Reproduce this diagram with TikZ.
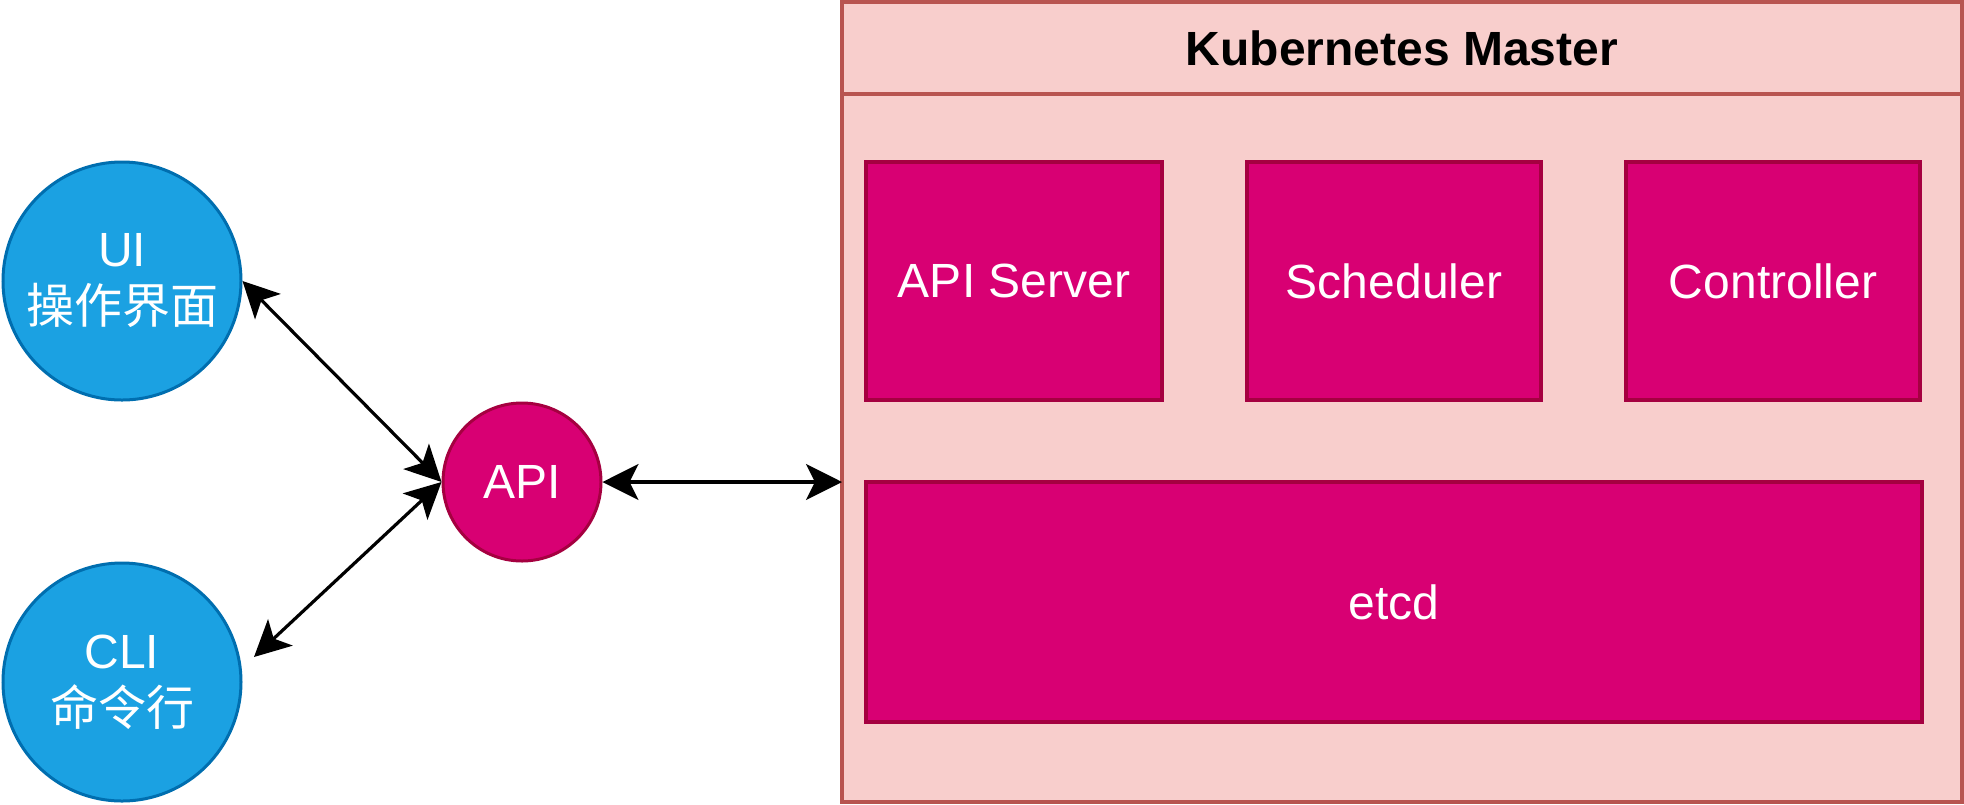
\documentclass[tikz,border=0pt]{standalone}
\usepackage{fontspec}
\setmainfont{Liberation Sans}
\newfontfamily\cjk{Noto Sans CJK SC}
\usepackage{xcolor}
\usepackage{tikz}
\usetikzlibrary{positioning,arrows.meta}
\definecolor{uiblue}{HTML}{1BA1E2}
\definecolor{uiline}{HTML}{006EAF}
\definecolor{magfill}{HTML}{D80073}
\definecolor{magline}{HTML}{A50040}
\definecolor{mastfill}{HTML}{F8CECC}
\definecolor{mastline}{HTML}{B85450}

\begin{document}
\begin{tikzpicture}[x=0.5pt, y=-0.5pt,
  client/.style={circle, draw=uiline, fill=uiblue, line width=1.5pt, minimum size=119pt, text=white, align=center, font=\fontsize{24}{28.5}\selectfont},
  comp/.style={draw=magline, fill=magfill, line width=2pt, text=white, font=\fontsize{24}{28.5}\selectfont},
  link/.style={{Stealth[length=18pt,width=18pt,inset=4.5pt]}-{Stealth[length=18pt,width=18pt,inset=4.5pt]}, line width=1.6pt}]
\useasboundingbox (0,0) rectangle (1964,804);

% master
\node[draw=mastline, fill=mastfill, line width=2pt, minimum width=560pt, minimum height=400pt, inner sep=0pt, outer sep=0pt] (master) at (1402,402) {};
\draw[mastline, line width=2pt] (master.north west) ++(0,92) -- ++(1120,0);
\node[font=\bfseries\fontsize{24}{28.5}\selectfont] (title) at (1402,48) {Kubernetes Master};

\node[comp, minimum width=148pt, minimum height=119pt] (apisrv) at (1014,281) {API Server};
\node[comp, minimum width=147pt, minimum height=119pt, right=40.5pt of apisrv] (sched) {Scheduler};
\node[comp, minimum width=147pt, minimum height=119pt, right=40.5pt of sched] (ctrl) {Controller};
\node[comp, minimum width=528pt, minimum height=120pt] (etcd) at (1394,602) {etcd};

% clients
\node[client] (ui) at (122,281) {UI\\{\cjk 操作界面}};
\node[client] (cli) at (122,682) {CLI\\{\cjk 命令行}};
\node[client, draw=magline, fill=magfill, minimum size=79pt] (api) at (522,482) {API};

\coordinate (clitip) at (254,657);
\draw[link] (ui.east) -- (api.west);
\draw[link] (clitip) -- (api.west);
\draw[link] (api.east) -- (api.east -| master.west);

\end{tikzpicture}
\end{document}
